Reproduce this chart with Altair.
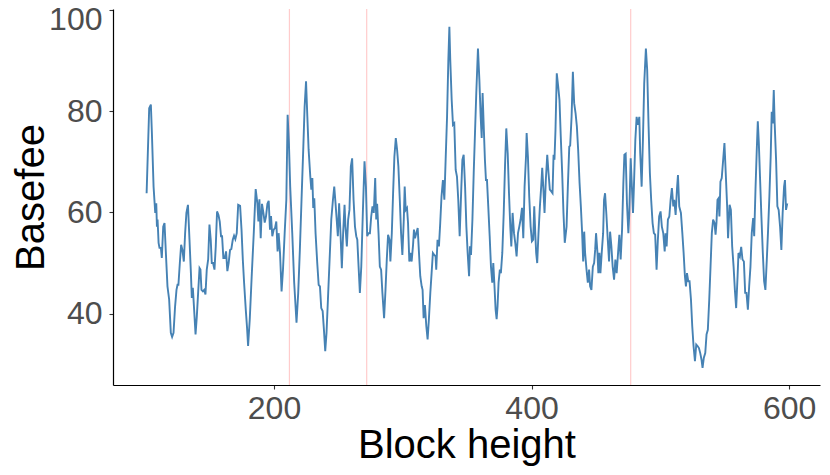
import altair as alt
import pandas as pd

# Block heights (x) and basefee values (y)
blocks = [
    101.1, 103.1, 104.4, 105.2, 106.5, 107.8, 108.6, 109.1, 109.6, 110.4,
    111.1, 112.2, 112.9, 114.0, 115.0, 116.3, 117.3, 118.6, 119.9, 120.9,
    122.0, 123.2, 124.3, 125.1, 125.8, 126.9, 127.9, 128.9, 130.0, 131.0,
    132.0, 133.2, 134.4, 135.5, 136.2, 137.0, 138.0, 139.1, 140.1, 141.1,
    142.2, 142.9, 143.7, 144.8, 145.8, 146.8, 147.8, 148.9, 149.9, 150.9,
    151.7, 152.7, 153.8, 154.8, 155.8, 156.9, 157.9, 158.9, 159.7, 160.7,
    161.8, 162.8, 163.8, 164.8, 165.9, 166.9, 168.0, 169.0, 170.0, 171.1,
    172.2, 173.7, 174.8, 175.8, 176.8, 178.1, 179.1, 179.9,
    181.2, 182.7, 184.3, 185.8, 187.1, 187.9, 188.7, 189.7, 190.7, 191.8,
    192.8, 193.8, 194.9, 195.9, 196.9, 197.7, 198.7, 199.8, 200.8, 201.8,
    202.8, 203.6, 204.7, 205.9, 207.0, 208.3, 209.6, 210.6, 211.6, 212.6,
    214.2, 215.7, 217.5, 218.8, 220.1, 221.4, 222.8, 223.8, 224.9, 225.9,
    226.9, 228.2, 229.0, 229.8, 230.5, 231.3, 232.3, 233.6, 234.7, 235.7,
    236.7, 237.8, 238.8, 239.8, 240.8, 241.9, 243.2, 244.5, 245.8, 246.8,
    247.8, 248.8, 249.6, 250.6, 251.7, 252.7, 253.7, 254.8, 255.5, 256.6,
    257.6, 258.6, 259.7, 260.7,
    261.8, 262.9, 263.9, 264.7, 265.7, 266.7, 267.8, 269.0, 270.3, 271.4,
    272.4, 273.4, 274.5, 275.5, 276.5, 277.5, 278.6, 279.4, 280.1, 281.2,
    282.2, 283.2, 284.2, 285.5, 286.6, 287.6, 288.6, 289.7, 290.4, 291.5,
    292.5, 293.5, 294.6, 295.6, 296.6, 297.7, 298.7, 299.7, 300.8, 301.5,
    302.3, 303.3, 304.1, 305.1, 305.9, 306.9, 308.0, 308.7, 309.5, 310.5,
    311.6, 312.6, 313.6, 314.7, 315.4, 316.2, 317.2, 318.3, 319.3, 320.3,
    321.4, 322.4, 323.4, 324.5, 325.5, 326.0, 327.0, 328.1, 329.1, 330.1,
    331.2, 332.3, 333.3, 334.4, 335.4, 336.2, 336.9, 338.0, 339.0, 340.0,
    341.1, 342.1, 343.1, 344.2,
    345.5, 346.3, 347.3, 348.4, 349.4, 350.4, 351.5, 352.2, 353.0, 354.1,
    355.1, 356.1, 357.1, 358.4, 359.5, 360.5, 361.3, 362.0, 362.8, 363.8,
    364.6, 365.4, 366.4, 367.5, 368.5, 369.5, 370.3, 371.1, 372.1, 372.9,
    373.6, 374.4, 375.4, 376.2, 377.3, 378.4, 379.4, 380.4, 381.5, 382.5,
    383.5, 384.3, 385.3, 386.4, 387.4, 388.4, 389.5, 390.5, 391.5, 392.6,
    393.6, 394.6, 395.7, 396.2, 397.2, 398.2, 399.3, 400.3, 401.3, 402.1,
    402.9, 403.6, 404.4, 405.4, 406.5, 407.5, 408.3, 409.1, 410.1, 411.1,
    412.2, 413.2, 414.2, 415.2, 416.3, 417.1, 417.8, 418.6, 419.6, 420.7,
    421.7, 422.7, 423.8, 424.8, 425.8,
    427.2, 428.2, 429.3, 430.0, 431.1, 432.1, 433.1, 434.2, 435.2, 436.2,
    437.3, 438.3, 439.3, 440.1, 440.9, 441.6, 442.7, 443.7, 444.7, 445.5,
    446.5, 447.6, 448.6, 449.4, 450.1, 451.2, 451.9, 452.7, 453.5, 454.5,
    455.6, 456.3, 457.1, 458.1, 459.2, 460.2, 461.0, 462.0, 463.0, 464.1,
    465.1, 466.1, 467.2, 468.2, 469.2, 470.3, 471.3, 472.1, 473.1, 474.1,
    475.2, 475.9, 477.0, 477.7, 478.8, 479.5, 480.6, 481.6, 482.6, 483.7,
    484.4, 485.5, 486.5, 487.5, 488.8, 489.8, 490.9, 491.9, 492.9, 494.0,
    495.0, 496.0, 497.1, 498.1, 499.1, 500.2, 501.2, 502.3, 503.4, 504.1,
    504.9, 505.9, 507.0, 508.0, 509.0, 510.1, 510.8, 511.9, 512.9, 513.7,
    514.7,
    516.0, 517.1, 518.1, 519.1, 519.9, 520.7, 521.7, 522.7, 523.8, 524.8,
    525.8, 526.9, 527.9, 528.9, 530.0, 531.0, 532.0, 532.8, 533.8, 534.9,
    535.9, 536.9, 538.0, 539.0, 540.0, 541.0, 542.1, 542.9, 543.6, 544.4,
    545.2, 545.9, 546.7, 547.7, 548.8, 549.8, 550.8, 551.9, 552.6, 553.8,
    554.8, 555.8, 556.9, 557.9, 558.9, 560.0, 560.7, 561.8, 562.8, 563.8,
    564.9, 565.9, 566.9, 568.0, 569.0, 570.0, 571.0, 572.1, 572.9, 573.9,
    574.9, 575.7, 576.5, 577.5, 578.5, 579.6, 580.6, 581.6, 582.7, 583.7,
    584.7, 585.7, 586.5, 587.3, 588.1, 588.8, 589.9, 590.9, 591.9, 593.0,
    594.0, 595.0, 596.1, 596.8, 597.6, 598.6,
]

basefee = [
    63.8, 80.6, 81.3, 75.7, 65.1, 59.9, 61.8, 57.2, 58.6, 54.0,
    53.0, 53.0, 51.0, 57.2, 57.9, 50.7, 45.4, 42.8, 36.2, 35.4,
    36.2, 41.4, 44.7, 45.7, 45.7, 50.0, 53.6, 52.6, 50.3, 55.9,
    59.9, 61.5, 54.6, 48.0, 43.1, 45.1, 40.8, 35.9, 39.5, 44.1,
    49.0, 48.7, 44.7, 44.4, 44.7, 43.8, 48.7, 50.7, 57.6, 54.6,
    50.0, 50.0, 48.7, 53.3, 60.2, 59.5, 58.2, 55.3, 55.3, 51.0,
    51.0, 52.3, 48.4, 50.0, 52.6, 52.8, 54.6, 55.4, 54.7, 55.9,
    61.5, 61.3, 56.6, 50.7, 46.1, 40.8, 37.2, 33.6,
    38.9, 47.4, 55.9, 64.6, 61.8, 58.2, 62.6, 54.9, 61.7, 59.9,
    58.0, 59.2, 61.7, 62.3, 56.6, 59.3, 55.3, 56.6, 56.9, 58.2,
    52.3, 55.9, 52.0, 44.4, 48.7, 55.9, 62.5, 79.3, 73.7, 65.1,
    55.9, 46.1, 38.2, 44.0, 52.6, 62.5, 73.0, 80.9, 85.9, 79.0,
    72.4, 67.1, 64.5, 66.8, 60.9, 62.8, 55.9, 50.0, 45.7, 45.4,
    41.1, 40.5, 36.8, 32.6, 36.2, 42.8, 50.7, 58.6, 62.5, 65.1,
    61.8, 58.2, 55.3, 61.8, 55.6, 49.0, 55.9, 61.5, 57.2, 53.3,
    58.6, 60.5, 69.1, 70.7,
    62.5, 57.2, 55.3, 54.6, 49.3, 44.1, 49.3, 59.9, 70.1, 65.1,
    55.3, 55.9, 55.9, 59.2, 61.2, 59.9, 66.8, 58.6, 61.7, 55.9,
    49.3, 48.7, 44.1, 39.1, 44.7, 50.7, 55.6, 54.6, 50.3, 55.9,
    63.8, 71.0, 74.7, 72.4, 69.1, 62.5, 55.9, 51.6, 58.6, 65.1,
    60.5, 60.9, 57.9, 50.3, 52.0, 50.3, 53.6, 56.6, 54.9, 55.9,
    56.9, 52.0, 47.4, 45.4, 44.7, 39.1, 41.7, 37.5, 34.9, 38.9,
    44.1, 48.0, 52.0, 51.6, 51.3, 48.7, 54.6, 53.3, 57.9, 63.2,
    66.4, 62.5, 70.4, 78.9, 90.1, 96.7, 90.1, 82.2, 77.3, 77.6,
    68.4, 67.1, 62.5, 55.3,
    65.1, 70.4, 71.4, 65.1, 57.2, 52.0, 47.4, 53.3, 51.6, 58.6,
    67.8, 75.7, 83.6, 92.4, 86.2, 78.9, 74.7, 83.6, 77.6, 70.4,
    66.4, 66.4, 61.2, 55.3, 49.3, 46.1, 50.0, 46.1, 40.8, 38.9,
    41.4, 46.1, 48.7, 48.0, 52.0, 59.9, 69.1, 76.6, 71.7, 63.8,
    57.2, 53.3, 59.9, 55.9, 53.9, 51.3, 55.9, 57.2, 58.6, 60.9,
    54.9, 65.1, 71.0, 75.7, 71.0, 63.2, 57.2, 54.3, 54.6, 61.2,
    55.9, 52.0, 50.0, 55.9, 61.2, 65.1, 68.8, 65.1, 59.9, 66.4,
    71.4, 67.8, 64.5, 64.2, 63.8, 71.4, 70.4, 76.3, 87.5, 84.9,
    82.2, 75.0, 67.8, 59.9, 54.0,
    57.2, 65.1, 73.0, 73.2, 78.9, 87.8, 81.6, 79.6, 77.0, 72.4,
    65.8, 61.2, 55.9, 50.3, 56.2, 52.0, 48.7, 46.1, 48.7, 45.4,
    44.7, 49.3, 50.0, 52.6, 55.9, 52.0, 48.0, 52.0, 48.0, 52.0,
    55.9, 62.5, 63.8, 59.7, 54.6, 50.3, 56.2, 53.3, 49.3, 46.7,
    50.7, 48.0, 52.0, 55.6, 50.7, 56.6, 65.8, 71.4, 71.6, 61.8,
    55.9, 59.9, 70.7, 66.4, 59.9, 65.1, 74.3, 78.9, 77.3, 78.9,
    71.7, 65.1, 74.3, 85.5, 92.4, 88.2, 77.0, 67.8, 62.5, 57.9,
    55.9, 55.6, 48.7, 54.6, 59.2, 60.2, 57.2, 55.9, 52.3, 55.9,
    53.3, 58.6, 59.2, 62.5, 64.8, 61.2, 62.5, 59.5, 64.5, 67.4,
    61.2,
    59.9, 55.9, 52.0, 47.4, 45.4, 48.0, 46.4, 46.4, 42.8, 37.5,
    33.6, 30.6, 33.9, 33.6, 33.2, 32.2, 30.9, 29.3, 31.3, 32.2,
    35.9, 36.8, 42.8, 49.3, 55.9, 58.6, 57.9, 55.6, 57.9, 62.5,
    62.8, 59.2, 66.1, 66.8, 70.4, 73.7, 67.8, 61.2, 54.9, 61.5,
    60.5, 53.3, 49.3, 44.7, 41.1, 47.4, 52.0, 51.3, 53.2, 50.7,
    50.3, 44.1, 44.1, 40.8, 45.4, 49.3, 55.9, 58.9, 55.3, 64.5,
    72.4, 78.0, 73.7, 66.4, 59.2, 52.0, 46.4, 44.7, 50.7, 56.6,
    63.2, 71.0, 79.9, 77.6, 84.2, 77.6, 70.4, 61.2, 60.5, 57.2,
    52.6, 59.9, 65.1, 66.4, 60.5, 61.8,
]

# Highlighted block heights (vertical reference lines)
vline_blocks = [212, 272, 477]

x_ticks = [200, 400, 600]
y_ticks = [40, 60, 80, 100]

df = pd.DataFrame({"block": blocks, "basefee": basefee})
vdf = pd.DataFrame({"block": vline_blocks})

FONT = "Liberation Sans"

x_scale = alt.Scale(domain=[75, 624], nice=False, zero=False)
y_scale = alt.Scale(domain=[25.9, 100.2], nice=False, zero=False)

x_axis = alt.Axis(
    title="Block height", values=x_ticks, grid=False,
    domainColor="black", domainWidth=1.2,
    tickColor="#333333", tickWidth=1.1, tickSize=4,
    labelFont=FONT, labelFontSize=32, labelColor="#4D4D4D",
    labelPadding=4, labelFlush=False, labelBaseline="top",
    titleFont=FONT, titleFontSize=40, titleFontWeight="normal",
    titleColor="black", titleBaseline="alphabetic", titleY=72,
)
y_axis = alt.Axis(
    title="Basefee", values=y_ticks, grid=False,
    domainColor="black", domainWidth=1.2,
    tickColor="#333333", tickWidth=1.1, tickSize=4,
    labelFont=FONT, labelFontSize=32, labelColor="#4D4D4D",
    labelPadding=7, labelFlush=False,
    labelOffset={"condition": {"test": "datum.value == 100", "value": 9}, "value": 0},
    titleFont=FONT, titleFontSize=40, titleFontWeight="normal",
    titleColor="black", titleBaseline="alphabetic", titleAngle=270,
    titleX=-70, titleY=188,
)

x_enc = alt.X("block:Q", scale=x_scale, axis=x_axis)

rules = alt.Chart(vdf).mark_rule(color="#FFCCCC", strokeWidth=1.2).encode(
    x=x_enc
)

line = alt.Chart(df).mark_line(color="#4682B4", strokeWidth=1.9).encode(
    x=x_enc,
    y=alt.Y("basefee:Q", scale=y_scale, axis=y_axis),
    order="block:Q",
)

chart = (
    alt.layer(rules, line)
    .properties(
        width=707, height=376,
        autosize=alt.AutoSizeParams(type="none"),
        padding={"left": 105, "top": 1, "right": 2, "bottom": 81},
        background="white",
    )
    .configure_view(stroke=None)
)

chart.save("out.html", embed_options={"renderer": "svg", "actions": False})
